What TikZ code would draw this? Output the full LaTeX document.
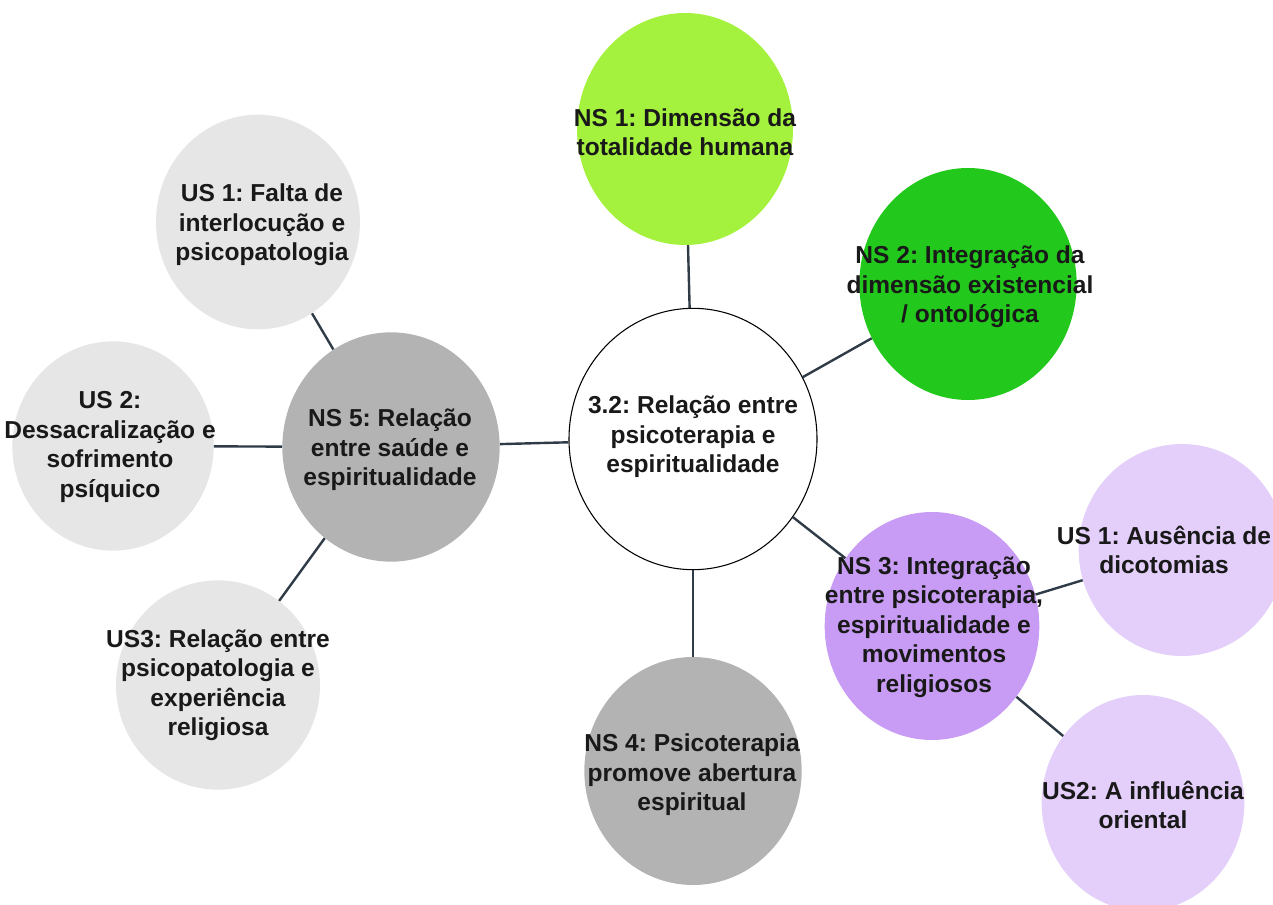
\documentclass[tikz,border=0pt]{standalone}
\usepackage{fontspec}
\setmainfont{Liberation Sans}
\usepackage{tikz}
\usetikzlibrary{shapes.geometric}
\frenchspacing

\definecolor{nsone}{HTML}{A4F23E}
\definecolor{nstwo}{HTML}{22C81C}
\definecolor{nsthree}{HTML}{C89CF4}
\definecolor{uslilac}{HTML}{E3CFFA}
\definecolor{nsgray}{HTML}{B3B3B3}
\definecolor{usgray}{HTML}{E6E6E6}
\definecolor{linkcol}{HTML}{2F3B47}

\begin{document}
\begin{tikzpicture}[
	x=0.75pt,
	y=-0.75pt,
	bubble/.style={ellipse, inner sep=0pt, draw=none},
	txt/.style={align=center, inner sep=0pt, text=black!90,
		font=\fontsize{18.4}{22.1}\selectfont\bfseries},
	link/.style={draw=linkcol, line width=1.8pt}
  ]

  \clip (0,0) rectangle (1273,905);

  % centre
  \node[bubble, draw=black, line width=0.8pt, fill=white,
        minimum width=186pt, minimum height=196pt] (c) at (693,439) {};

  % main themes
  \node[bubble, fill=nsone, minimum width=162pt, minimum height=174pt] (ns1) at (685,129) {};
  \node[bubble, fill=nstwo, minimum width=163pt, minimum height=174pt] (ns2) at (968,284) {};
  \node[bubble, fill=nsthree, minimum width=161pt, minimum height=171pt] (ns3) at (932,626) {};
  \node[bubble, fill=nsgray, minimum width=163pt, minimum height=171pt] (ns4) at (693,771) {};
  \node[bubble, fill=nsgray, minimum width=163pt, minimum height=172pt] (ns5) at (391,447) {};

  % sub themes
  \node[bubble, fill=uslilac, minimum width=155pt, minimum height=159pt] (us1r) at (1182,550) {};
  \node[bubble, fill=uslilac, minimum width=152pt, minimum height=162pt] (us2r) at (1143,803) {};
  \node[bubble, fill=usgray, minimum width=153pt, minimum height=161pt] (us1l) at (258,222) {};
  \node[bubble, fill=usgray, minimum width=151pt, minimum height=157pt] (us2l) at (113,446) {};
  \node[bubble, fill=usgray, minimum width=153pt, minimum height=157pt] (us3l) at (218,685) {};

  \path (c) edge[link] (ns1)
            edge[link] (ns2)
            edge[link] (ns3)
            edge[link] (ns4)
            edge[link] (ns5)
        (ns3) edge[link] (us1r)
              edge[link] (us2r)
        (ns5) edge[link] (us1l)
              edge[link] (us2l)
              edge[link] (us3l);

  % texts
  \node[txt] (ct)    at (693,437)  {3.2: Relação entre\\psicoterapia e\\espiritualidade};
  \node[txt] (ns1t)  at (685,132)  {NS 1: Dimensão da\\totalidade humana};
  \node[txt] (ns2t)  at (970,287)  {NS 2: Integração da\\dimensão existencial\\/ ontológica};
  \node[txt] (ns3t)  at (934,627)  {NS 3: Integração\\entre psicoterapia,\\espiritualidade e\\movimentos\\religiosos};
  \node[txt] (ns4t)  at (692,775)  {NS 4: Psicoterapia\\promove abertura\\espiritual};
  \node[txt] (ns5t)  at (390,450)  {NS 5: Relação\\entre saúde e\\espiritualidade};
  \node[txt] (us1rt) at (1164,550) {US 1: Ausência de\\dicotomias};
  \node[txt] (us2rt) at (1143,805) {US2: A influência\\oriental};
  \node[txt] (us1lt) at (262,225)  {US 1: Falta de\\interlocução e\\psicopatologia};
  \node[txt] (us2lt) at (110,447)  {US 2:\\Dessacralização e\\sofrimento\\psíquico};
  \node[txt] (us3lt) at (218,685)  {US3: Relação entre\\psicopatologia e\\experiência\\religiosa};

\end{tikzpicture}
\end{document}
